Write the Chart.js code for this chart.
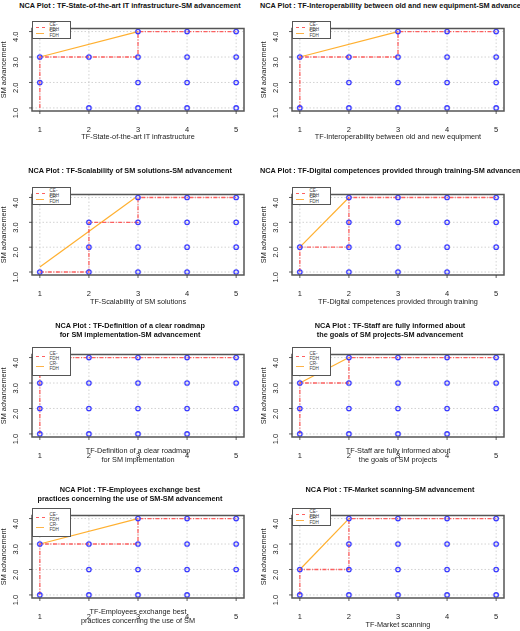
<!DOCTYPE html>
<html>
<head>
<meta charset="utf-8">
<script src="https://cdn.jsdelivr.net/npm/chart.js@4.4.0/dist/chart.umd.min.js"></script>
<style>
  body { margin: 0; background: #fff; font-family: "Liberation Sans", Arial, sans-serif; }
  #fig { position: relative; width: 520px; height: 631px; }
  .panel { position: absolute; width: 260px; }
  canvas { position: absolute; left: 0; }
  .titulo { position: absolute; left: 0; width: 260px; text-align: center; font-weight: bold; font-size: 7.3px; line-height: 8.5px; color: #111; white-space: nowrap; }
  .xlab { position: absolute; left: 20px; width: 236px; text-align: center; font-size: 7.3px; line-height: 8.5px; color: #222; }
  .leyenda { position: absolute; left: 32px; width: 30px; border: 1px solid #555; background: #fff; font-size: 4.6px; color: #444; padding: 2px 4px 2px 3px; }
  .leyenda div { display: flex; align-items: center; height: 6px; }
  .leyenda span.l { display: inline-block; width: 9px; margin-right: 5px; border-top: 1px solid; }
</style>
</head>
<body>
<div id="fig"></div>
<script>
// Titulos y etiquetas de cada panel
const titulos = [
  'NCA Plot : TF-State-of-the-art IT infrastructure-SM advancement',
  'NCA Plot : TF-Interoperability between old and new equipment-SM advancement',
  'NCA Plot : TF-Scalability of SM solutions-SM advancement',
  'NCA Plot : TF-Digital competences provided through training-SM advancement',
  'NCA Plot : TF-Definition of a clear roadmap<br>for SM implementation-SM advancement',
  'NCA Plot : TF-Staff are fully informed about<br>the goals of SM projects-SM advancement',
  'NCA Plot : TF-Employees exchange best<br>practices concerning the use of SM-SM advancement',
  'NCA Plot : TF-Market scanning-SM advancement'
];
const etiquetasX = [
  'TF-State-of-the-art IT infrastructure',
  'TF-Interoperability between old and new equipment',
  'TF-Scalability of SM solutions',
  'TF-Digital competences provided through training',
  'TF-Definition of a clear roadmap<br>for SM implementation',
  'TF-Staff are fully informed about<br>the goals of SM projects',
  'TF-Employees exchange best<br>practices concerning the use of SM',
  'TF-Market scanning'
];
const ticksX = [1, 2, 3, 4, 5];
const ticksY = [1, 2, 3, 4];

// Observaciones [x, y]
const puntos1 = [[1,3],[1,2],[2,3],[2,1],[3,4],[3,3],[3,2],[3,1],[4,4],[4,3],[4,2],[4,1],[5,4],[5,3],[5,2],[5,1]];
const puntos2 = [[1,3],[1,1],[2,3],[2,2],[2,1],[3,4],[3,3],[3,2],[3,1],[4,4],[4,3],[4,2],[4,1],[5,4],[5,3],[5,2],[5,1]];
const puntos3 = [[1,1],[2,3],[2,2],[2,1],[3,4],[3,3],[3,2],[3,1],[4,4],[4,3],[4,2],[4,1],[5,4],[5,3],[5,2],[5,1]];
const puntos4 = [[1,2],[1,1],[2,4],[2,3],[2,2],[2,1],[3,4],[3,3],[3,2],[3,1],[4,4],[4,3],[4,2],[4,1],[5,4],[5,3],[5,2]];
const puntos5 = [[1,4],[1,3],[1,2],[1,1],[2,4],[2,3],[2,2],[2,1],[3,4],[3,3],[3,2],[3,1],[4,4],[4,3],[4,2],[4,1],[5,4],[5,3],[5,2]];
const puntos6 = [[1,3],[1,2],[1,1],[2,4],[2,3],[2,2],[2,1],[3,4],[3,3],[3,2],[3,1],[4,4],[4,3],[4,2],[4,1],[5,4],[5,3],[5,2]];
const puntos7 = [[1,3],[1,1],[2,3],[2,2],[2,1],[3,4],[3,3],[3,2],[3,1],[4,4],[4,3],[4,2],[4,1],[5,4],[5,3],[5,2]];
const puntos8 = [[1,2],[1,1],[2,4],[2,3],[2,2],[2,1],[3,4],[3,3],[3,2],[3,1],[4,4],[4,3],[4,2],[4,1],[5,4],[5,3],[5,2],[5,1]];

// Techo CE-FDH (escalones)
const ce1 = [[1,1],[1,3],[3,3],[3,4],[5,4]];
const ce2 = [[1,1],[1,3],[3,3],[3,4],[5,4]];
const ce3 = [[1,1],[2,1],[2,3],[3,3],[3,4],[5,4]];
const ce4 = [[1,1],[1,2],[2,2],[2,4],[5,4]];
const ce5 = [[1,1],[1,4],[5,4]];
const ce6 = [[1,1],[1,3],[2,3],[2,4],[5,4]];
const ce7 = [[1,1],[1,3],[3,3],[3,4],[5,4]];
const ce8 = [[1,1],[1,2],[2,2],[2,4],[5,4]];

// Techo CR-FDH (recta)
const cr1 = [[1,3],[3,4]];
const cr2 = [[1,3],[3,4]];
const cr3 = [[1,1.2],[2.95,4]];
const cr4 = [[1,2],[2,4]];
const cr5 = [];
const cr6 = [[1,3],[2,4]];
const cr7 = [[1,3],[3,4]];
const cr8 = [[1,2],[2,4]];

const puntos = [puntos1, puntos2, puntos3, puntos4, puntos5, puntos6, puntos7, puntos8];
const techosCE = [ce1, ce2, ce3, ce4, ce5, ce6, ce7, ce8];
const techosCR = [cr1, cr2, cr3, cr4, cr5, cr6, cr7, cr8];

// Posicion de cada area de grafico (top, bottom en px)
const filas = [[21, 111], [187, 275], [347, 437], [508, 598]];
const titulosY = [2, 167, 322, 486];
const xlabY = [133, 298, 448, 621];

function aXY(lista) { return lista.map(p => ({ x: p[0], y: p[1] })); }

const fig = document.getElementById('fig');

function crearPanel(i) {
  const col = i % 2, fila = Math.floor(i / 2);
  const [top, bottom] = filas[fila];
  const doble = titulos[i].includes('<br>');
  const panel = document.createElement('div');
  panel.className = 'panel';
  panel.style.left = (col * 260) + 'px';
  panel.style.top = '0px';
  fig.appendChild(panel);

  const t = document.createElement('div');
  t.className = 'titulo';
  t.style.top = titulosY[fila] + 'px';
  t.innerHTML = titulos[i];
  panel.appendChild(t);

  const c = document.createElement('canvas');
  const h = bottom - top + 30;
  c.width = 260; c.height = h;
  c.style.width = '260px'; c.style.height = h + 'px';
  c.style.top = (top - 5) + 'px';
  panel.appendChild(c);

  const xl = document.createElement('div');
  xl.className = 'xlab';
  xl.style.top = (etiquetasX[i].includes('<br>') ? bottom + 10 : xlabY[fila]) + 'px';
  xl.innerHTML = etiquetasX[i];
  panel.appendChild(xl);

  const ley = document.createElement('div');
  ley.className = 'leyenda';
  ley.style.top = top + 'px';
  if (doble) { ley.style.padding = '5px 4px 6px 3px'; }
  ley.innerHTML = '<div><span class="l" style="border-top:1px dashed #ff6060"></span>CE-FDH</div>' +
    (doble ? '<div style="height:4px"></div>' : '') +
    '<div><span class="l" style="border-color:#ffb347"></span>CR-FDH</div>';
  panel.appendChild(ley);

  new Chart(c, {
    type: 'scatter',
    data: {
      datasets: [
        {
          label: 'CR-FDH', data: aXY(techosCR[i]), showLine: true,
          borderColor: '#ffb030', borderWidth: 1.2, pointRadius: 0, order: 2
        },
        {
          label: 'CE-FDH', data: aXY(techosCE[i]), showLine: true,
          borderColor: 'rgba(255,70,70,0.85)', borderWidth: 1.3, borderDash: [4, 1.5, 1, 1.5],
          pointRadius: 0, order: 1
        },
        {
          label: 'obs', data: aXY(puntos[i]),
          pointRadius: 2.2, pointBorderWidth: 1.3, pointBorderColor: '#3d3dff',
          pointBackgroundColor: 'rgba(0,0,0,0)', order: 0
        }
      ]
    },
    options: {
      responsive: false, animation: false,
      layout: { padding: { top: 5, right: 16, left: 0, bottom: 0 } },
      plugins: { legend: { display: false }, tooltip: { enabled: false } },
      scales: {
        x: {
          type: 'linear', min: 0.84, max: 5.16,
          afterBuildTicks: ax => { ax.ticks = ticksX.map(v => ({ value: v })); },
          afterFit: ax => { ax.height = 25; },
          grid: { display: false },
          border: { display: false },
          ticks: { font: { family: 'Liberation Sans', size: 7.5 }, color: '#222', padding: 6, callback: v => v }
        },
        y: {
          type: 'linear', min: 0.88, max: 4.12,
          afterBuildTicks: ax => { ax.ticks = ticksY.map(v => ({ value: v })); },
          afterFit: ax => { ax.width = 32; },
          grid: { display: false },
          border: { display: false },
          title: { display: true, text: 'SM advancement', font: { family: 'Liberation Sans', size: 7.3 }, color: '#222', padding: { top: 0, bottom: 2 } },
          ticks: { font: { family: 'Liberation Sans', size: 7.5 }, color: '#222', padding: 8, minRotation: 90, maxRotation: 90, callback: v => v.toFixed(1) }
        }
      }
    },
    plugins: [{
      id: 'marco',
      beforeDatasetsDraw(chart) {
        // lineas de rejilla punteadas
        const { ctx, chartArea: a, scales } = chart;
        ctx.save();
        ctx.strokeStyle = '#c8c8c8'; ctx.lineWidth = 0.8; ctx.setLineDash([1.5, 2]);
        ticksX.forEach(v => { const x = scales.x.getPixelForValue(v); ctx.beginPath(); ctx.moveTo(x, a.top); ctx.lineTo(x, a.bottom); ctx.stroke(); });
        ticksY.forEach(v => { const y = scales.y.getPixelForValue(v); ctx.beginPath(); ctx.moveTo(a.left, y); ctx.lineTo(a.right, y); ctx.stroke(); });
        ctx.restore();
      },
      afterDraw(chart) {
        const { ctx, chartArea: a, scales } = chart;
        ctx.save();
        ctx.strokeStyle = '#555'; ctx.lineWidth = 1.5;
        ctx.strokeRect(a.left, a.top, a.right - a.left, a.bottom - a.top);
        ctx.lineWidth = 0.8; ctx.strokeStyle = '#333';
        ticksX.forEach(v => { const x = scales.x.getPixelForValue(v); ctx.beginPath(); ctx.moveTo(x, a.bottom); ctx.lineTo(x, a.bottom + 3); ctx.stroke(); });
        ticksY.forEach(v => { const y = scales.y.getPixelForValue(v); ctx.beginPath(); ctx.moveTo(a.left, y); ctx.lineTo(a.left - 3, y); ctx.stroke(); });
        ctx.restore();
      }
    }]
  });
}

for (let i = 0; i < 8; i++) crearPanel(i);
</script>
</body>
</html>
